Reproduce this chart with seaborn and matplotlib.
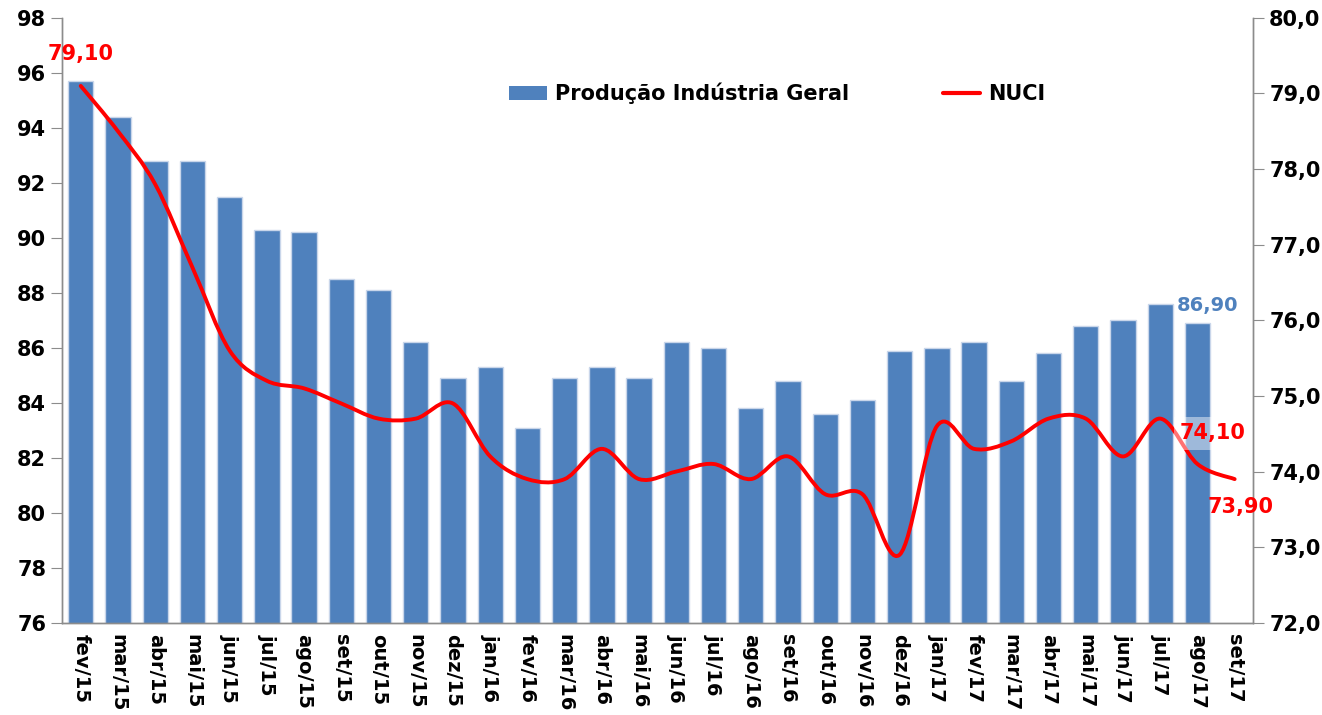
import numpy as np
import pandas as pd
import matplotlib
matplotlib.use("Agg")
import matplotlib.pyplot as plt
import seaborn as sns
from matplotlib.path import Path
from matplotlib.patches import PathPatch, Patch
from matplotlib.lines import Line2D
from matplotlib.ticker import FuncFormatter, MultipleLocator

meses = ["fev/15", "mar/15", "abr/15", "mai/15", "jun/15", "jul/15", "ago/15", "set/15",
         "out/15", "nov/15", "dez/15", "jan/16", "fev/16", "mar/16", "abr/16", "mai/16",
         "jun/16", "jul/16", "ago/16", "set/16", "out/16", "nov/16", "dez/16", "jan/17",
         "fev/17", "mar/17", "abr/17", "mai/17", "jun/17", "jul/17", "ago/17", "set/17"]

# Produção Indústria Geral (eixo esquerdo), set/17 sem dado
producao = [95.7, 94.4, 92.8, 92.8, 91.5, 90.3, 90.2, 88.5, 88.1, 86.2, 84.9, 85.3,
            83.1, 84.9, 85.3, 84.9, 86.2, 86.0, 83.8, 84.8, 83.6, 84.1, 85.9, 86.0,
            86.2, 84.8, 85.8, 86.8, 87.0, 87.6, 86.9, np.nan]

# NUCI (eixo direito)
nuci = [79.1, 78.5, 77.8, 76.7, 75.6, 75.2, 75.1, 74.9, 74.7, 74.7, 74.9, 74.2,
        73.9, 73.9, 74.3, 73.9, 74.0, 74.1, 73.9, 74.2, 73.7, 73.7, 72.9, 74.6,
        74.3, 74.4, 74.7, 74.7, 74.2, 74.7, 74.1, 73.9]

azul = "#4F81BD"
cinza = "#8C8C8C"

df = pd.DataFrame({"mes": meses, "producao": producao})

sns.set_style("white")
plt.rcParams["font.family"] = ["DejaVu Sans"]
plt.rcParams["font.weight"] = "bold"
plt.rcParams["text.color"] = "black"

fig = plt.figure(figsize=(13.22, 7.15), dpi=100)
ax = fig.add_axes([0.047, 0.129, 0.901, 0.846])

sns.barplot(data=df, x="mes", y="producao", order=meses, color=azul, saturation=1,
            width=0.68, edgecolor="#C9D6EA", linewidth=1, ax=ax)
ax.set_xlim(-0.5, len(meses) - 0.5)
ax.set_ylim(76, 98)
ax.yaxis.set_major_locator(MultipleLocator(2))
ax.set_xlabel("")
ax.set_ylabel("")

# eixo direito - NUCI
ax2 = ax.twinx()
ax2.set_ylim(72, 80)
ax2.yaxis.set_major_locator(MultipleLocator(1))
ax2.yaxis.set_major_formatter(FuncFormatter(lambda v, p: f"{v:.1f}".replace(".", ",")))

# linha suavizada (estilo Excel, bezier entre os pontos)
pts = np.column_stack([np.arange(len(nuci)), nuci])
verts = [pts[0]]
codes = [Path.MOVETO]
for i in range(len(pts) - 1):
    p0 = pts[i - 1] if i > 0 else pts[i]
    p3 = pts[i + 2] if i + 2 < len(pts) else pts[i + 1]
    c1 = pts[i] + (pts[i + 1] - p0) / 6
    c2 = pts[i + 1] - (p3 - pts[i]) / 6
    verts += [c1, c2, pts[i + 1]]
    codes += [Path.CURVE4] * 3
ax2.add_patch(PathPatch(Path(verts, codes), fill=False, edgecolor="red", lw=2.8,
                        capstyle="round", joinstyle="round"))

# eixos / ticks
for a in (ax, ax2):
    for s in a.spines.values():
        s.set_color(cinza)
        s.set_linewidth(1)
    a.spines["top"].set_visible(False)

ax.set_xticks(range(len(meses)))
ax.set_xticklabels(meses, rotation=270, fontsize=14, fontweight="bold")
ax.set_xticks(np.arange(-0.5, len(meses), 1), minor=True)
ax.tick_params(axis="x", which="major", length=0, pad=8, labelcolor="black")
ax.tick_params(axis="x", which="minor", length=7, color=cinza, direction="out")
ax.tick_params(axis="y", which="major", length=8, color=cinza, direction="out",
               labelsize=15, left=True, labelcolor="black")
ax2.tick_params(axis="y", which="major", length=8, color=cinza, direction="out",
                labelsize=15, right=True, labelcolor="black")
for lbl in ax.get_yticklabels() + ax2.get_yticklabels():
    lbl.set_fontweight("bold")

# rótulos de dados
ax2.annotate("79,10", (0, nuci[0]), xytext=(0, 16), textcoords="offset points",
             ha="center", va="bottom", color="red", fontsize=15, fontweight="bold")
ax.annotate("86,90", (30, producao[30]), xytext=(7, 6), textcoords="offset points",
            ha="center", va="bottom", color=azul, fontsize=14, fontweight="bold")
ax2.annotate("74,10", (30, nuci[30]), xytext=(11, 22), textcoords="offset points",
             ha="center", va="center", color="red", fontsize=15, fontweight="bold",
             bbox=dict(boxstyle="square,pad=0.3", fc="white", ec="none", alpha=0.45))
ax2.annotate("73,90", (31, nuci[31]), xytext=(4, -20), textcoords="offset points",
             ha="center", va="center", color="red", fontsize=15, fontweight="bold")

# legenda
handles = [Patch(facecolor=azul, edgecolor="none"),
           Line2D([], [], color="red", lw=3)]
fig.legend(handles, ["Produção Indústria Geral", "NUCI"], loc="center",
           bbox_to_anchor=(0.588, 0.869), ncol=2, frameon=False,
           prop={"weight": "bold", "size": 15}, columnspacing=4.5,
           handlelength=1.8, handletextpad=0.4, labelcolor="black")

fig.savefig("out.png", dpi=100)
